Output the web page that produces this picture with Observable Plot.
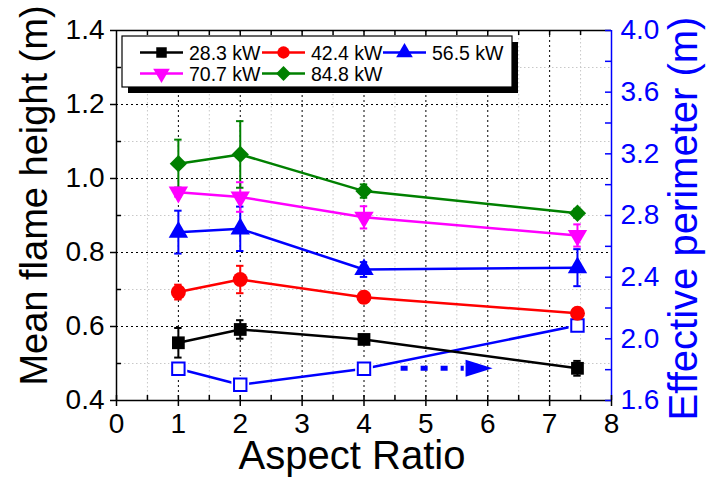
<!DOCTYPE html>
<html>
<head>
<meta charset="utf-8">
<script src="https://cdn.jsdelivr.net/npm/d3@7"></script>
<script src="https://cdn.jsdelivr.net/npm/@observablehq/plot@0.6"></script>
<style>
  html, body { margin: 0; padding: 0; background: white; }
  #chart { width: 710px; height: 482px; }
</style>
</head>
<body>
<div id="chart"></div>
<script>
// ---- data ----
const aspectRatio = [1, 2, 4, 7.45];
const seriesNames = ["28.3 kW", "42.4 kW", "56.5 kW", "70.7 kW", "84.8 kW"];
const seriesColors = ["#000000", "#ff0000", "#0000ff", "#ff00ff", "#008000"];
const flame283 = [0.556, 0.592, 0.565, 0.487];
const err283   = [0.040, 0.025, 0.012, 0.020];
const flame424 = [0.693, 0.727, 0.679, 0.636];
const err424   = [0.020, 0.037, 0.015, 0.010];
const flame565 = [0.855, 0.864, 0.754, 0.759];
const err565   = [0.058, 0.060, 0.020, 0.050];
const flame707 = [0.963, 0.950, 0.895, 0.846];
const err707   = [0.012, 0.040, 0.030, 0.030];
const flame848 = [1.040, 1.065, 0.966, 0.906];
const err848   = [0.065, 0.090, 0.018, 0.012];
const perimeter = [1.806, 1.702, 1.806, 2.086];   // right axis (m)
const arrowDash = [4.6, 5.62];  // dashed arrow shaft (aspect ratio)
const arrowHead = [5.86];       // arrow head centre
const arrowLevel = 1.81;        // right-axis value
const xTicks = [0, 1, 2, 3, 4, 5, 6, 7, 8];
const yTicks = [0.4, 0.6, 0.8, 1.0, 1.2, 1.4];
const rightTicks = [1.6, 2.0, 2.4, 2.8, 3.2, 3.6, 4.0];

// right axis maps linearly onto left axis domain
const R0 = 1.6, R1 = 4.0, L0 = 0.4, L1 = 1.4;
const toLeft = r => L0 + (r - R0) * (L1 - L0) / (R1 - R0);
const toRight = l => R0 + (l - L0) * (R1 - R0) / (L1 - L0);

const flames = [flame283, flame424, flame565, flame707, flame848];
const errs = [err283, err424, err565, err707, err848];
const symbols = ["square", "circle", "triangle", "triangle", "diamond2"];
const rotations = [0, 0, 0, 180, 0];
const radii = [7.2, 7.5, 7.2, 7.2, 7.8];

const rows = [];
seriesNames.forEach((s, i) => aspectRatio.forEach((x, j) =>
  rows.push({series: s, idx: i, x, y: flames[i][j], e: errs[i][j]})));
const perimRows = aspectRatio.map((x, j) => ({x, y: toLeft(perimeter[j])}));

const minorX = d3.range(0.5, 8, 1);
const majorX = d3.range(1, 8, 1);
const minorY = d3.range(0.5, 1.4, 0.2).map(v => +v.toFixed(2));
const majorY = [0.6, 0.8, 1.0, 1.2];
const allHalfX = d3.range(0.5, 8, 0.5).map(v => +v.toFixed(2));
const rightMinor = d3.range(1.8, 4.0, 0.4).map(v => +v.toFixed(2));

// custom elongated arrow-head symbol (pointing right)
const arrowSymbol = {
  draw(ctx, size) {
    const L = 27, H = 17;
    ctx.moveTo(L / 2, 0);
    ctx.lineTo(-L / 2, -H / 2);
    ctx.lineTo(-L / 2, H / 2);
    ctx.closePath();
  }
};

const xUnit = 8 / (710 - 116 - 99);    // x data per px
const yUnit = 1.0 / (482 - 30 - 82);   // y data per px

const marks = [];
// grid
marks.push(Plot.ruleX(minorX, {stroke: "#c8c8c8", strokeWidth: 1, strokeDasharray: "1.5,2.5"}));
marks.push(Plot.ruleY(minorY, {stroke: "#c8c8c8", strokeWidth: 1, strokeDasharray: "1.5,2.5"}));
marks.push(Plot.ruleX(majorX, {stroke: "#000", strokeWidth: 1, strokeDasharray: "2,3"}));
marks.push(Plot.ruleY(majorY, {stroke: "#000", strokeWidth: 1, strokeDasharray: "2,3"}));

// error bars
marks.push(Plot.ruleX(rows, {x: "x", y1: d => d.y - d.e, y2: d => d.y + d.e,
  stroke: d => seriesColors[d.idx], strokeWidth: 2}));
marks.push(Plot.ruleY(rows, {y: d => d.y + d.e, x1: d => d.x - 0.06, x2: d => d.x + 0.06,
  stroke: d => seriesColors[d.idx], strokeWidth: 2}));
marks.push(Plot.ruleY(rows, {y: d => d.y - d.e, x1: d => d.x - 0.06, x2: d => d.x + 0.06,
  stroke: d => seriesColors[d.idx], strokeWidth: 2}));

// effective perimeter series
marks.push(Plot.line(perimRows, {x: "x", y: "y", stroke: "#0000ff", strokeWidth: 2.5}));
marks.push(Plot.dot(perimRows, {x: "x", y: "y", symbol: "square", r: 10, fill: "white", stroke: "none"}));
marks.push(Plot.dot(perimRows, {x: "x", y: "y", symbol: "square", r: 7, fill: "white", stroke: "#0000ff", strokeWidth: 2}));

// arrow
marks.push(Plot.ruleY([toLeft(arrowLevel)], {x1: arrowDash[0], x2: arrowDash[1], stroke: "#0000ff", strokeWidth: 5, strokeDasharray: "7,13"}));
marks.push(Plot.dot(arrowHead, {x: d => d, y: () => toLeft(arrowLevel), symbol: arrowSymbol, r: 5, fill: "#0000ff", stroke: "none"}));

// series lines & markers
seriesNames.forEach((s, i) => {
  const d = rows.filter(r => r.idx === i);
  marks.push(Plot.line(d, {x: "x", y: "y", stroke: seriesColors[i], strokeWidth: 2.5}));
  marks.push(Plot.dot(d, {x: "x", y: "y", symbol: symbols[i], r: radii[i], rotate: rotations[i],
    fill: seriesColors[i], stroke: "none"}));
});

// frame
marks.push(Plot.ruleY([1.4], {stroke: "#000", strokeWidth: 1.5}));
marks.push(Plot.ruleY([0.4], {stroke: "#000", strokeWidth: 1.5}));
marks.push(Plot.ruleX([0], {stroke: "#000", strokeWidth: 1.5}));
marks.push(Plot.ruleX([8], {stroke: "#0000ff", strokeWidth: 1.5}));

// ticks: bottom
marks.push(Plot.ruleX(xTicks, {y1: 0.4 - 6 * yUnit, y2: 0.4 + 5 * yUnit, stroke: "#000", strokeWidth: 1.5}));
marks.push(Plot.ruleX(minorX, {y1: 0.4, y2: 0.4 + 5 * yUnit, stroke: "#000", strokeWidth: 1.5}));
// ticks: top
marks.push(Plot.ruleX(allHalfX, {y1: 1.4 - 5 * yUnit, y2: 1.4, stroke: "#000", strokeWidth: 1.5}));
// ticks: left
marks.push(Plot.ruleY(yTicks, {x1: -6 * xUnit, x2: 0, stroke: "#000", strokeWidth: 1.5}));
marks.push(Plot.ruleY(minorY, {x1: 0, x2: 5 * xUnit, stroke: "#000", strokeWidth: 1.5}));
// ticks: right (blue, inward)
marks.push(Plot.ruleY(rightTicks.concat(rightMinor).map(toLeft), {x1: 8 - 6 * xUnit, x2: 8, stroke: "#0000ff", strokeWidth: 1.5}));

// axis labels
marks.push(Plot.axisX({ticks: xTicks, tickFormat: d3.format("d"), tickSize: 0, tickPadding: 13, fontSize: 28, label: null}));
marks.push(Plot.axisY({anchor: "left", ticks: yTicks, tickFormat: d3.format(".1f"), tickSize: 0, tickPadding: 12, fontSize: 28, label: null}));
marks.push(Plot.axisY({anchor: "right", ticks: rightTicks.map(toLeft), tickFormat: v => toRight(v).toFixed(1),
  tickSize: 0, tickPadding: 9, fontSize: 28, label: null, color: "#0000ff"}));

// axis titles
marks.push(Plot.text(["Aspect Ratio"], {frameAnchor: "bottom", textAnchor: "middle", dx: -12, dy: 68, fontSize: 40, fill: "#000"}));
marks.push(Plot.text(["Mean flame height (m)"], {frameAnchor: "left", textAnchor: "middle", rotate: -90, dx: -82, dy: -20, fontSize: 38, fill: "#000"}));
marks.push(Plot.text(["Effective perimeter (m)"], {frameAnchor: "right", textAnchor: "middle", rotate: -90, dx: 73, dy: 3, fontSize: 40, fill: "#0000ff"}));

const svg = Plot.plot({
  width: 710, height: 482,
  marginLeft: 116, marginRight: 99, marginTop: 30, marginBottom: 82,
  x: {domain: [0, 8], axis: null},
  y: {domain: [0.4, 1.4], axis: null},
  style: {fontFamily: "'Liberation Sans', Arial, sans-serif", background: "white", overflow: "visible"},
  marks
});

// ---- legend (drawn inside the SVG) ----
const g = d3.select(svg).append("g")
  .style("font-family", "'Liberation Sans', Arial, sans-serif")
  .attr("text-anchor", "start");
g.append("rect").attr("x", 128).attr("y", 42).attr("width", 390).attr("height", 51).attr("fill", "#000");
g.append("rect").attr("x", 122).attr("y", 36).attr("width", 390).attr("height", 51)
  .attr("fill", "white").attr("stroke", "#000").attr("stroke-width", 1.2);
const legendPos = [[140, 52.5], [262, 52.5], [383, 52.5], [140, 73.5], [262, 73.5]];
const legSym = [d3.symbolSquare, d3.symbolCircle, d3.symbolTriangle, d3.symbolTriangle, d3.symbolDiamond2];
const legSize = [110, 120, 120, 120, 140];
seriesNames.forEach((s, i) => {
  const [lx, ly] = legendPos[i];
  g.append("line").attr("x1", lx).attr("x2", lx + 43).attr("y1", ly).attr("y2", ly)
    .attr("stroke", seriesColors[i]).attr("stroke-width", 2.5);
  g.append("path").attr("d", d3.symbol(legSym[i], legSize[i])())
    .attr("transform", `translate(${lx + 21.5},${ly}) rotate(${rotations[i]})`)
    .attr("fill", seriesColors[i]);
  g.append("text").attr("x", lx + 49).attr("y", ly).attr("dy", "0.36em")
    .style("font-size", "19.5px").style("text-anchor", "start").attr("fill", "#000").text(s);
});

document.getElementById("chart").appendChild(svg);
</script>
</body>
</html>
